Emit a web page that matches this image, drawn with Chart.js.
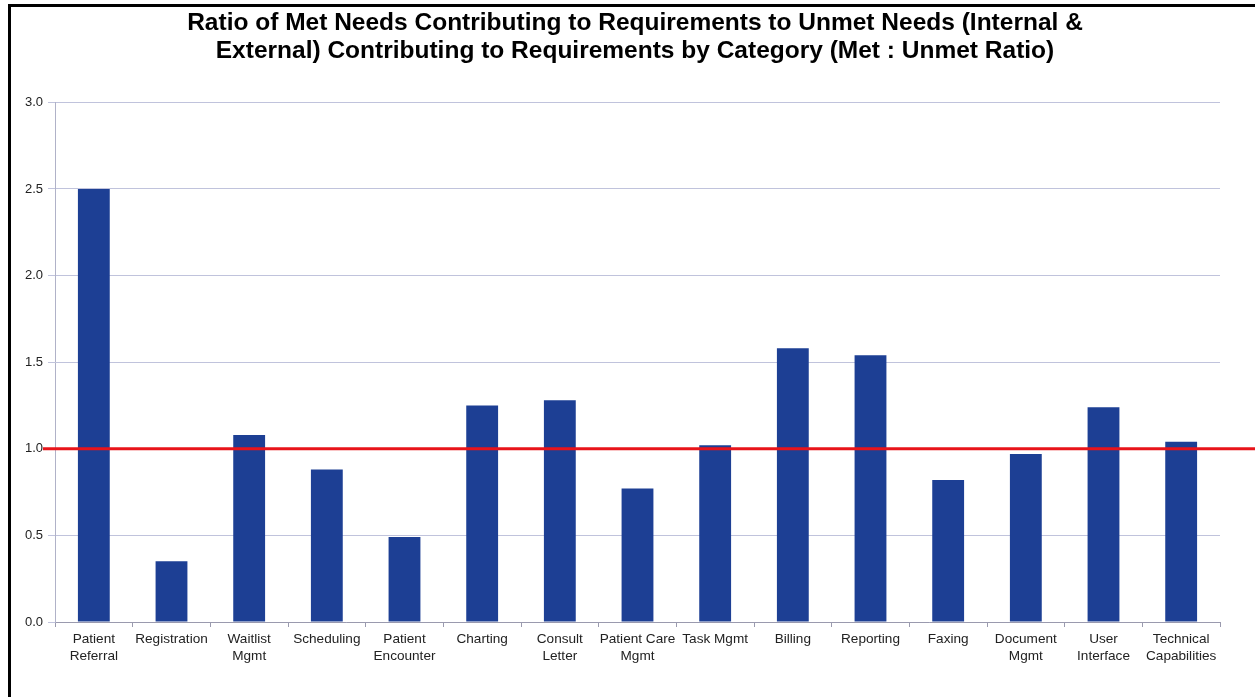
<!DOCTYPE html>
<html>
<head>
<meta charset="utf-8">
<script src="https://cdn.jsdelivr.net/npm/chart.js@4/dist/chart.umd.min.js"></script>
<style>
  html, body { margin: 0; padding: 0; background: #fff; }
  #wrap { position: relative; width: 1255px; height: 697px; overflow: hidden; }
  #frame { position: absolute; left: 8px; top: 4px; right: -10px; bottom: -10px;
           border-left: 3px solid #000; border-top: 3px solid #000; pointer-events: none; }
  canvas { position: absolute; left: 0; top: 0; }
</style>
</head>
<body>
<div id="wrap">
  <canvas id="c" width="1255" height="697"></canvas>
  <div id="frame"></div>
</div>
<script>
// Categories (multi-line labels as arrays)
const categories = [
  ["Patient", "Referral"],
  "Registration",
  ["Waitlist", "Mgmt"],
  "Scheduling",
  ["Patient", "Encounter"],
  "Charting",
  ["Consult", "Letter"],
  ["Patient Care", "Mgmt"],
  "Task Mgmt",
  "Billing",
  "Reporting",
  "Faxing",
  ["Document", "Mgmt"],
  ["User", "Interface"],
  ["Technical", "Capabilities"]
];

// Met : Unmet ratio per category
const ratioValues = [2.50, 0.35, 1.08, 0.88, 0.49, 1.25, 1.28, 0.77, 1.02, 1.58, 1.54, 0.82, 0.97, 1.24, 1.04];

// Break-even reference level
const referenceLevel = 1.0;

// Y axis ticks
const yTicks = [0.0, 0.5, 1.0, 1.5, 2.0, 2.5, 3.0];

const titleLines = [
  "Ratio of Met Needs Contributing to Requirements to Unmet Needs (Internal &",
  "External) Contributing to Requirements by Category (Met : Unmet Ratio)"
];

// Red horizontal line at the reference level, running to the right canvas edge
const referenceLine = {
  id: 'referenceLine',
  afterDatasetsDraw(chart) {
    const y = chart.scales.y.getPixelForValue(referenceLevel);
    const ctx = chart.ctx;
    ctx.save();
    ctx.strokeStyle = '#e8141a';
    ctx.lineWidth = 3;
    ctx.beginPath();
    ctx.moveTo(chart.chartArea.left - 12, y);
    ctx.lineTo(chart.width, y);
    ctx.stroke();
    ctx.restore();
  }
};

const fontFamily = 'Liberation Sans, Arial, sans-serif';

new Chart(document.getElementById('c'), {
  type: 'bar',
  data: {
    labels: categories,
    datasets: [{
      data: ratioValues,
      backgroundColor: '#1d3f94',
      borderWidth: 0,
      categoryPercentage: 1.0,
      barPercentage: 0.41
    }]
  },
  options: {
    responsive: false,
    animation: false,
    layout: { padding: { left: 15, right: 0, top: 0, bottom: 0 } },
    plugins: {
      legend: { display: false },
      tooltip: { enabled: false },
      title: {
        display: true,
        text: titleLines,
        color: '#000',
        font: { family: fontFamily, size: 24.5, weight: 'bold', lineHeight: 1.15 },
        padding: { top: 9, bottom: 37 }
      }
    },
    scales: {
      x: {
        grid: {
          display: true,
          offset: true,
          drawOnChartArea: false,
          drawTicks: true,
          tickLength: 5,
          color: '#9a9aae'
        },
        border: { display: true, color: '#9a9aae', width: 1 },
        ticks: {
          autoSkip: false,
          maxRotation: 0,
          minRotation: 0,
          padding: 4,
          color: '#222',
          font: { family: fontFamily, size: 13.6, lineHeight: 1.25 }
        },
        afterFit(scale) { scale.height = 75; }
      },
      y: {
        min: 0,
        max: 3,
        afterBuildTicks(scale) { scale.ticks = yTicks.map(v => ({ value: v })); },
        grid: {
          color: '#c0c3dc',
          lineWidth: 1,
          tickLength: 7,
          drawTicks: true
        },
        border: { display: true, color: '#b0b2c8', width: 1 },
        ticks: {
          padding: 5,
          color: '#222',
          font: { family: fontFamily, size: 13 },
          callback: v => Number(v).toFixed(1)
        },
        afterFit(scale) { scale.width = 40; }
      },
      // empty right-hand margin axis, keeps the plot clear of the right edge
      yRight: {
        position: 'right',
        min: 0,
        max: 3,
        grid: { display: false, drawTicks: false },
        border: { display: false },
        ticks: { display: false },
        afterFit(scale) { scale.width = 35; }
      }
    }
  },
  plugins: [referenceLine]
});
</script>
</body>
</html>
